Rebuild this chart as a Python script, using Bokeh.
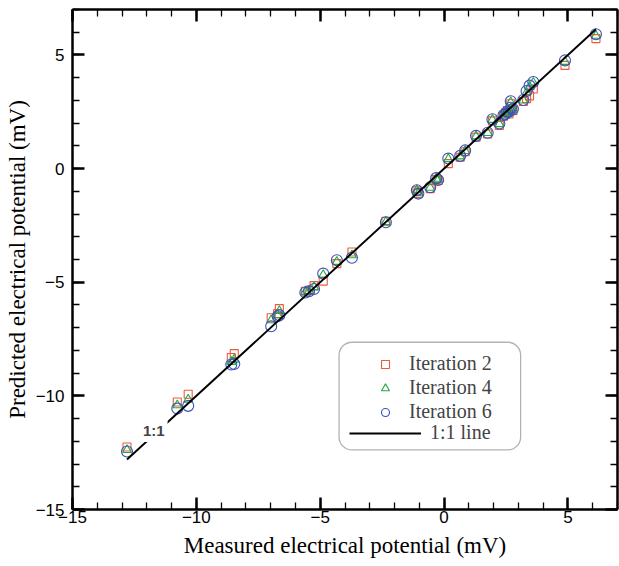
from bokeh.plotting import figure
from bokeh.models import (Range1d, LinearAxis, SingleIntervalTicker, Legend, LegendItem,
                          Label, BoxAnnotation, ColumnDataSource)
from bokeh.embed import file_html
from bokeh.resources import INLINE

# ---- data ----
measured = [-12.80, -10.77, -10.33, -8.59, -8.47, -6.98, -6.72, -6.65, -5.60, -5.45,
            -5.25, -4.88, -4.33, -3.72, -2.35, -1.10, -1.04, -0.56, -0.32, -0.24,
            0.17, 0.65, 0.85, 1.29, 1.76, 1.95, 2.23, 2.40, 2.48, 2.55,
            2.62, 2.70, 2.78, 2.69, 3.20, 3.33, 3.45, 3.60, 4.88, 6.13]
iteration2 = [-12.25, -10.27, -9.93, -8.31, -8.14, -6.56, -6.38, -6.16, -5.40, -5.36,
              -5.15, -4.95, -4.18, -3.67, -2.32, -0.98, -1.10, -0.88, -0.48, -0.52,
              0.22, 0.50, 0.74, 1.38, 1.52, 2.10, 1.90, 2.30, 2.45, 2.55,
              2.40, 2.62, 2.55, 2.85, 2.95, 3.08, 3.20, 3.50, 4.54, 5.72]
iteration4 = [-12.38, -10.41, -10.16, -8.50, -8.40, -6.67, -6.45, -6.26, -5.42, -5.38,
              -5.22, -4.68, -4.10, -3.81, -2.35, -0.95, -1.08, -0.84, -0.44, -0.50,
              0.42, 0.54, 0.78, 1.42, 1.57, 2.15, 1.96, 2.34, 2.42, 2.52,
              2.48, 2.65, 2.60, 2.92, 3.00, 3.35, 3.60, 3.78, 4.70, 5.85]
iteration6 = [-12.45, -10.56, -10.44, -8.62, -8.60, -6.94, -6.50, -6.45, -5.45, -5.40,
              -5.30, -4.62, -4.03, -3.92, -2.36, -0.95, -1.10, -0.82, -0.42, -0.50,
              0.44, 0.56, 0.80, 1.44, 1.58, 2.17, 1.98, 2.36, 2.40, 2.50,
              2.50, 2.68, 2.62, 2.96, 3.02, 3.41, 3.65, 3.81, 4.76, 5.91]
axis_min, axis_max = -15, 7
major_step = 5
series_labels = ["Iteration 2", "Iteration 4", "Iteration 6"]
line_label = "1:1 line"
line_tag = "1:1"

SERIF = "Liberation Serif"
SANS = "Liberation Sans"

p = figure(width=619, height=566, output_backend="svg", toolbar_location=None,
           x_range=Range1d(axis_min, axis_max), y_range=Range1d(axis_min, axis_max),
           min_border_left=72, min_border_right=2, min_border_top=9, min_border_bottom=57,
           x_axis_label="Measured electrical potential (mV)",
           y_axis_label="Predicted electrical potential (mV)")
p.xgrid.visible = False
p.ygrid.visible = False
p.outline_line_color = None
p.background_fill_color = "white"
p.border_fill_color = "white"

def style_axis(ax, labels=True):
    ax.ticker = SingleIntervalTicker(interval=major_step, num_minor_ticks=5)
    ax.axis_line_width = 2.5
    ax.axis_line_color = "black"
    ax.major_tick_in = 12
    ax.major_tick_out = 0
    ax.minor_tick_in = 7
    ax.minor_tick_out = 0
    ax.major_tick_line_width = 2.5
    ax.minor_tick_line_width = 1.3
    ax.major_tick_line_color = "black"
    ax.minor_tick_line_color = "black"
    if labels:
        ax.major_label_text_font = SANS
        ax.major_label_text_font_size = "17px"
        ax.major_label_text_color = "black"
        ax.axis_label_text_font = SERIF
        ax.axis_label_text_font_size = "23px"
        ax.axis_label_text_font_style = "normal"
        ax.axis_label_text_color = "black"
    else:
        ax.major_label_text_font_size = "0px"
        ax.major_label_standoff = 0
        ax.axis_label = None

style_axis(p.xaxis[0])
style_axis(p.yaxis[0])
p.xaxis[0].major_label_standoff = 1
p.xaxis[0].axis_label_standoff = 7
p.yaxis[0].major_label_standoff = 8
p.yaxis[0].axis_label_standoff = 3

top_ax = LinearAxis()
right_ax = LinearAxis()
style_axis(top_ax, labels=False)
style_axis(right_ax, labels=False)
p.add_layout(top_ax, "above")
p.add_layout(right_ax, "right")

src = ColumnDataSource(dict(x=measured, y2=iteration2, y4=iteration4, y6=iteration6))
r2 = p.scatter("x", "y2", source=src, marker="square", size=8, fill_color=None,
               line_color="#EE5A3C", line_width=1.1)
r4 = p.scatter("x", "y4", source=src, marker="triangle", size=9, fill_color=None,
               line_color="#22A845", line_width=1.1)
r6 = p.scatter("x", "y6", source=src, marker="circle", size=11, fill_color=None,
               line_color="#3C50B8", line_width=1.1)
lo, hi = min(measured), max(measured)
rl = p.line([lo, hi], [lo, hi], line_color="black", line_width=1.9)

tag = Label(x=-11.72, y=-11.52, text=line_tag, text_font=SANS, text_font_style="bold",
            text_font_size="15px", text_align="center", text_baseline="middle",
            background_fill_color="white", padding=3)
p.add_layout(tag)

# legend frame (rounded)
frame_box = BoxAnnotation(left=-4.24, right=3.09, top=-7.64, bottom=-12.38,
                          fill_color="white", fill_alpha=1.0, line_color="black",
                          line_width=1.3, border_radius=13)
p.add_layout(frame_box)

# one legend per row so the rows sit as in the reference
marker_rows = [(r2, 134), (r4, 110), (r6, 86)]
for (rend, vy), lab in zip(marker_rows, series_labels):
    leg = Legend(items=[LegendItem(label=lab, renderers=[rend])],
                 location=(303, vy), orientation="vertical",
                 glyph_width=20, glyph_height=22, label_height=22,
                 label_standoff=14, padding=0, margin=0,
                 label_text_font=SERIF, label_text_font_size="20px",
                 background_fill_alpha=0, border_line_alpha=0)
    p.add_layout(leg, "center")

leg_line = Legend(items=[LegendItem(label=line_label, renderers=[rl])],
                  location=(277, 65), orientation="vertical",
                  glyph_width=72, glyph_height=22, label_height=22,
                  label_standoff=9, padding=0, margin=0,
                  label_text_font=SERIF, label_text_font_size="20px",
                  background_fill_alpha=0, border_line_alpha=0)
p.add_layout(leg_line, "center")

open("out.html", "w").write(file_html(p, INLINE))
